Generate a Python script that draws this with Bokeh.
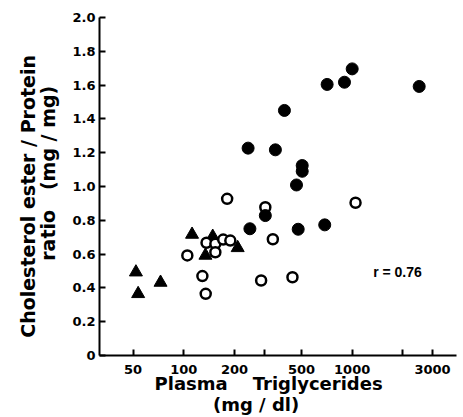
from bokeh.plotting import figure
from bokeh.models import FixedTicker, Label, Range1d
from bokeh.embed import file_html
from bokeh.resources import INLINE

# Data
filled_tg = [241, 350, 396, 710, 900, 1000, 2500, 505, 505, 467, 305, 247, 478, 687]
filled_ratio = [1.227, 1.217, 1.450, 1.604, 1.617, 1.696, 1.592, 1.124, 1.090, 1.009, 0.828, 0.750, 0.747, 0.773]

open_tg = [105, 129, 135, 136.5, 154, 154, 171.5, 189, 181, 305, 288, 338, 442, 1047]
open_ratio = [0.592, 0.470, 0.365, 0.667, 0.661, 0.611, 0.686, 0.680, 0.927, 0.877, 0.444, 0.688, 0.463, 0.904]

tri_tg = [52, 53.6, 72.8, 112, 148.6, 134.5, 209]
tri_ratio = [0.493, 0.365, 0.432, 0.716, 0.704, 0.592, 0.637]

x_ticks = [50, 100, 200, 300, 500, 1000, 2000, 3000]
x_tick_labels = {50: "50", 100: "100", 200: "200", 300: "", 500: "500", 1000: "1000", 2000: "", 3000: "3000"}
y_ticks = [0, 0.2, 0.4, 0.6, 0.8, 1.0, 1.2, 1.4, 1.6, 1.8, 2.0]
y_tick_labels = {0: "0", 0.2: "0.2", 0.4: "0.4", 0.6: "0.6", 0.8: "0.8", 1.0: "1.0",
                 1.2: "1.2", 1.4: "1.4", 1.6: "1.6", 1.8: "1.8", 2.0: "2.0"}

NB = "\u00a0"
x_title = "Plasma" + NB * 3 + " Triglycerides" + NB * 3 + "\n" + "(mg / dl)" + NB * 7
y_title = "Cholesterol  ester / Protein" + NB * 2 + "\n" + NB * 4 + "ratio" + NB * 2 + " (mg / mg)"
r_text = "r = 0.76"

FONT = "DejaVu Sans"

p = figure(width=463, height=417, x_axis_type="log", output_backend="svg",
           toolbar_location=None, x_range=Range1d(31.6, 4163), y_range=Range1d(0, 2.0),
           min_border_left=99, min_border_right=7, min_border_top=17, min_border_bottom=62)
p.outline_line_color = None
p.xgrid.visible = False
p.ygrid.visible = False
p.background_fill_color = "white"

def style_axis(ax):
    ax.axis_line_color = "black"
    ax.axis_line_width = 2
    ax.major_tick_line_color = "black"
    ax.major_tick_line_width = 2
    ax.major_tick_in = 6
    ax.major_tick_out = 0
    ax.minor_tick_line_color = None
    ax.minor_tick_in = 0
    ax.minor_tick_out = 0
    ax.major_label_text_font = FONT
    ax.major_label_text_font_style = "bold"
    ax.major_label_text_font_size = "13px"
    ax.major_label_text_color = "black"
    ax.axis_label_text_font = FONT
    ax.axis_label_text_font_style = "bold"
    ax.axis_label_text_color = "black"

xa = p.xaxis[0]
style_axis(xa)
xa.ticker = FixedTicker(ticks=x_ticks)
xa.major_label_overrides = x_tick_labels
xa.major_label_standoff = 9
xa.axis_label = x_title
xa.axis_label_text_font_size = "18px"
xa.axis_label_text_line_height = 1.0
xa.axis_label_standoff = -4

ya = p.yaxis[0]
style_axis(ya)
ya.ticker = FixedTicker(ticks=y_ticks)
ya.major_label_overrides = y_tick_labels
ya.major_label_standoff = 4
ya.axis_label = y_title
ya.axis_label_text_font_size = "19px"
ya.axis_label_text_line_height = 0.95
ya.axis_label_standoff = 10

p.scatter(tri_tg, tri_ratio, marker="triangle", size=13, fill_color="black", line_color="black")
p.scatter(open_tg, open_ratio, marker="circle", size=10, fill_color="white",
          line_color="black", line_width=2.5)
p.scatter(filled_tg, filled_ratio, marker="circle", size=12, fill_color="black", line_color="black")

p.add_layout(Label(x=1858, y=0.497, text=r_text, text_font="Liberation Sans", text_font_style="bold",
                   text_font_size="14px", text_align="center", text_baseline="middle",
                   text_color="black"))

open("out.html", "w").write(file_html(p, INLINE))
